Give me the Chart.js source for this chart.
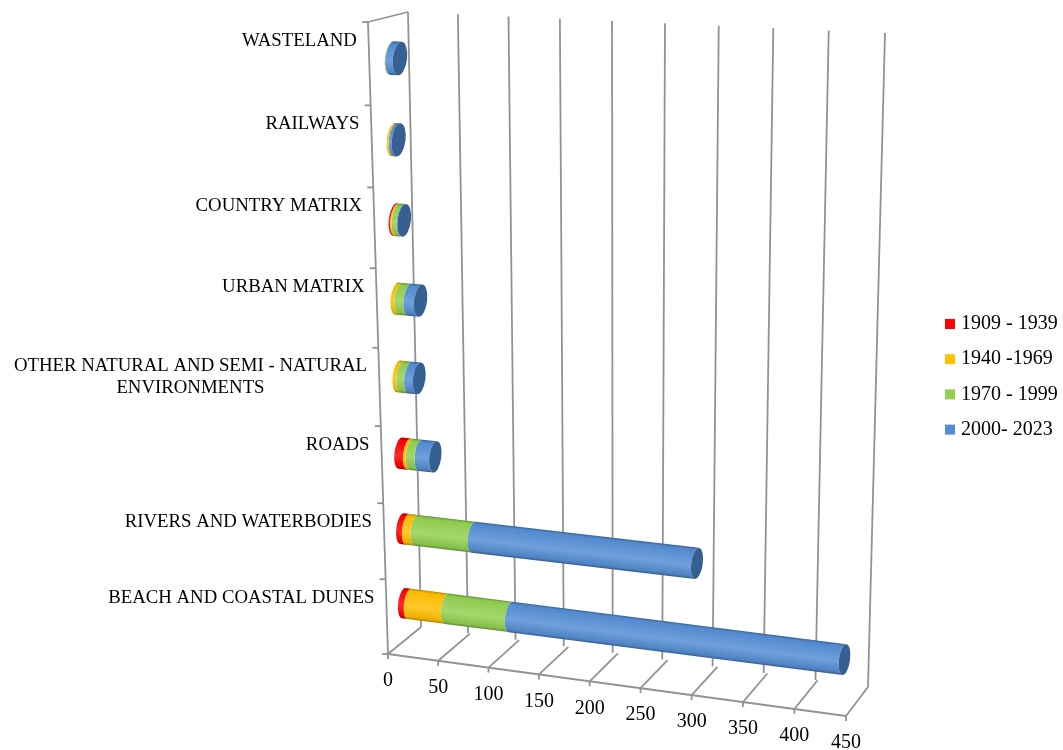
<!DOCTYPE html>
<html>
<head>
<meta charset="utf-8">
<title>Land cover by period</title>
<script src="https://cdn.jsdelivr.net/npm/chart.js@4"></script>
<style>
  html, body { margin: 0; padding: 0; background: #fff; }
  #wrap { width: 1063px; height: 750px; }
  canvas { filter: blur(0.4px); }
</style>
</head>
<body>
<div id="wrap"><canvas id="grafico"></canvas></div>
<script>
const categories = [
  'WASTELAND',
  'RAILWAYS',
  'COUNTRY MATRIX',
  'URBAN MATRIX',
  ['OTHER NATURAL AND SEMI - NATURAL', 'ENVIRONMENTS'],
  'ROADS',
  'RIVERS AND WATERBODIES',
  'BEACH AND COASTAL DUNES'
];
const periods = ['1909 - 1939', '1940 -1969', '1970 - 1999', '2000- 2023'];
const period1909 = [0, 0, 1.5, 0, 0, 9, 6, 6];
const period1940 = [0, 2, 1.5, 4, 4, 3, 9, 39];
const period1970 = [0.5, 0, 5, 9, 8, 9, 59, 66];
const period2000 = [7.5, 3, 1, 11, 9, 15, 222, 326];
const axisTicks = [0, 50, 100, 150, 200, 250, 300, 350, 400, 450];

const colors = ['#FF0000', '#FFC000', '#92D050', '#558ED5'];
const capColor = '#376092';
const lineColor = '#929292';
const serif = '"Liberation Serif", serif';

// the 3D box, as screen corners: (u,v) = (0,0) (1,0) (1,1) (0,1)
function quad(p) {
  const [[x0, y0], [x1, y1], [x2, y2], [x3, y3]] = p;
  const dx1 = x1 - x2, dx2 = x3 - x2, sx = x0 - x1 + x2 - x3;
  const dy1 = y1 - y2, dy2 = y3 - y2, sy = y0 - y1 + y2 - y3;
  const det = dx1 * dy2 - dx2 * dy1;
  const g = (sx * dy2 - dx2 * sy) / det;
  const h = (dx1 * sy - sx * dy1) / det;
  const a = x1 - x0 + g * x1, b = x3 - x0 + h * x3;
  const d = y1 - y0 + g * y1, e = y3 - y0 + h * y3;
  return (u, v) => {
    const w = g * u + h * v + 1;
    return [(a * u + b * v + x0) / w, (d * u + e * v + y0) / w];
  };
}
const backWall = quad([[408, 12], [885, 33], [868, 687], [421, 627]]);
const floor = quad([[421, 627], [868, 687], [846, 716], [388, 654]]);
const barPlane = quad([[391, 17], [872, 40], [857, 701], [404.5, 640]]);
const sideTop = [368, 22], sideBottom = [388, 654], sideBack = [408, 12];

// point on the front edge of the side wall, spacing shrinks a bit going down
function sideAxis(v) {
  const r = 0.94;
  const t = v / (v + r * (1 - v));
  return [sideTop[0] + (sideBottom[0] - sideTop[0]) * t, sideTop[1] + (sideBottom[1] - sideTop[1]) * t];
}

let drawArea = null;
let drawIndex = 0;

function line(ctx, a, b) {
  ctx.beginPath();
  ctx.moveTo(a[0], a[1]);
  ctx.lineTo(b[0], b[1]);
  ctx.stroke();
}

// mix helper for cylinder shading
function mix(hex, other, t) {
  const n = parseInt(hex.slice(1), 16), m = parseInt(other.slice(1), 16);
  const ch = s => Math.round(((n >> s) & 255) * (1 - t) + ((m >> s) & 255) * t);
  return `rgb(${ch(16)},${ch(8)},${ch(0)})`;
}

// bars are drawn as cylinders, each one sheared onto the bar plane
Chart.BarElement.prototype.draw = function (ctx) {
  const { x, y, base, height } = this.getProps(['x', 'y', 'base', 'height'], true);
  if (Math.abs(x - base) < 0.01) return;
  const area = drawArea;
  const top = y - height / 2, bottom = y + height / 2;
  const toPlane = (px, py) => barPlane((px - area.left) / area.width, (py - area.top) / area.height);
  const p00 = toPlane(base, top), p10 = toPlane(x, top), p01 = toPlane(base, bottom);
  const lean = 4.5; // ends of the cylinder lean to the right at the top
  const a = (p10[0] - p00[0]) / (x - base), b = (p10[1] - p00[1]) / (x - base);
  const c = (p01[0] - p00[0] - lean) / height, d = (p01[1] - p00[1]) / height;

  ctx.save();
  ctx.transform(a, b, c, d, p00[0] + lean / 2 - a * base - c * top, p00[1] - b * base - d * top);
  const v = (y - area.top) / area.height;
  const rx = (7.2 - 1.8 * v) / a, ry = height / 2;
  const col = colors[drawIndex];
  const g = ctx.createLinearGradient(0, top, 0, bottom);
  g.addColorStop(0, mix(col, '#000000', 0.3));
  g.addColorStop(0.08, mix(col, '#000000', 0.03));
  g.addColorStop(0.58, mix(col, '#ffffff', 0.16));
  g.addColorStop(0.92, mix(col, '#000000', 0.08));
  g.addColorStop(1, mix(col, '#000000', 0.35));
  ctx.fillStyle = g;
  ctx.beginPath();
  ctx.ellipse(base, y, rx, ry, 0, -Math.PI / 2, Math.PI / 2, true);
  ctx.ellipse(x, y, rx, ry, 0, Math.PI / 2, -Math.PI / 2, false);
  ctx.closePath();
  ctx.fill();
  if (drawIndex === periods.length - 1) {
    ctx.fillStyle = capColor;
    ctx.beginPath();
    ctx.ellipse(x, y, rx, ry, 0, 0, Math.PI * 2);
    ctx.fill();
  }
  ctx.restore();
};

const boxPlugin = {
  id: 'box',
  beforeDatasetDraw(chart, args) {
    drawArea = chart.chartArea;
    drawIndex = args.index;
  },
  beforeDatasetsDraw(chart) {
    const ctx = chart.ctx;
    const xs = chart.scales.x, area = chart.chartArea;
    ctx.save();
    ctx.strokeStyle = lineColor;
    ctx.lineWidth = 1.8;
    axisTicks.forEach(t => {
      const u = (xs.getPixelForValue(t) - area.left) / area.width;
      line(ctx, backWall(u, 0), backWall(u, 1));
      line(ctx, floor(u, 0), floor(u, 1));
      const f = floor(u, 1);
      line(ctx, f, [f[0], f[1] + 5]);
    });
    line(ctx, floor(0, 1), floor(1, 1));
    line(ctx, sideTop, sideBack);
    line(ctx, sideTop, sideBottom);
    for (let i = 0; i <= categories.length; i++) {
      const p = sideAxis(i / categories.length);
      line(ctx, p, [p[0] - 6, p[1]]);
    }
    ctx.restore();
  },
  afterDatasetsDraw(chart) {
    const ctx = chart.ctx;
    const xs = chart.scales.x, ys = chart.scales.y, area = chart.chartArea;
    ctx.save();
    ctx.fillStyle = '#000';
    ctx.textBaseline = 'middle';

    ctx.font = '20px ' + serif;
    ctx.textAlign = 'center';
    xs.ticks.forEach(t => {
      const p = floor((xs.getPixelForValue(t.value) - area.left) / area.width, 1);
      ctx.fillText(t.value, p[0], p[1] + 27);
    });

    ctx.font = '18.8px ' + serif;
    categories.forEach((label, i) => {
      const v = (ys.getPixelForValue(i) - area.top) / area.height;
      const p = sideAxis(v);
      const first = Array.isArray(label) ? label[0] : label;
      const right = p[0] - 12.5, y = p[1] - 23.5 + 5 * v;
      ctx.textAlign = 'right';
      ctx.fillText(first, right, y);
      if (Array.isArray(label)) {
        ctx.textAlign = 'center';
        ctx.fillText(label[1], right - ctx.measureText(first).width / 2, y + 22);
      }
    });

    // legend
    ctx.font = '20px ' + serif;
    ctx.textAlign = 'left';
    periods.forEach((name, i) => {
      const y = 324 + i * 35.2;
      ctx.fillStyle = colors[i];
      ctx.fillRect(945, y - 5, 10, 10);
      ctx.fillStyle = '#000';
      ctx.fillText(name, 961, y);
    });
    ctx.restore();
  }
};

new Chart(document.getElementById('grafico').getContext('2d'), {
  type: 'bar',
  data: {
    labels: categories,
    datasets: [period1909, period1940, period1970, period2000].map((data, i) => ({
      label: periods[i],
      data,
      backgroundColor: colors[i],
      borderWidth: 0,
      clip: false
    }))
  },
  options: {
    indexAxis: 'y',
    responsive: true,
    maintainAspectRatio: false,
    animation: false,
    barPercentage: 0.41,
    categoryPercentage: 1,
    scales: {
      x: {
        stacked: true,
        min: 0,
        max: 450,
        ticks: { display: false, stepSize: 50 },
        grid: { display: false },
        border: { display: false }
      },
      y: {
        stacked: true,
        ticks: { display: false },
        grid: { display: false },
        border: { display: false }
      }
    },
    plugins: {
      tooltip: { enabled: false },
      legend: { display: false }
    }
  },
  plugins: [boxPlugin]
});
</script>
</body>
</html>
